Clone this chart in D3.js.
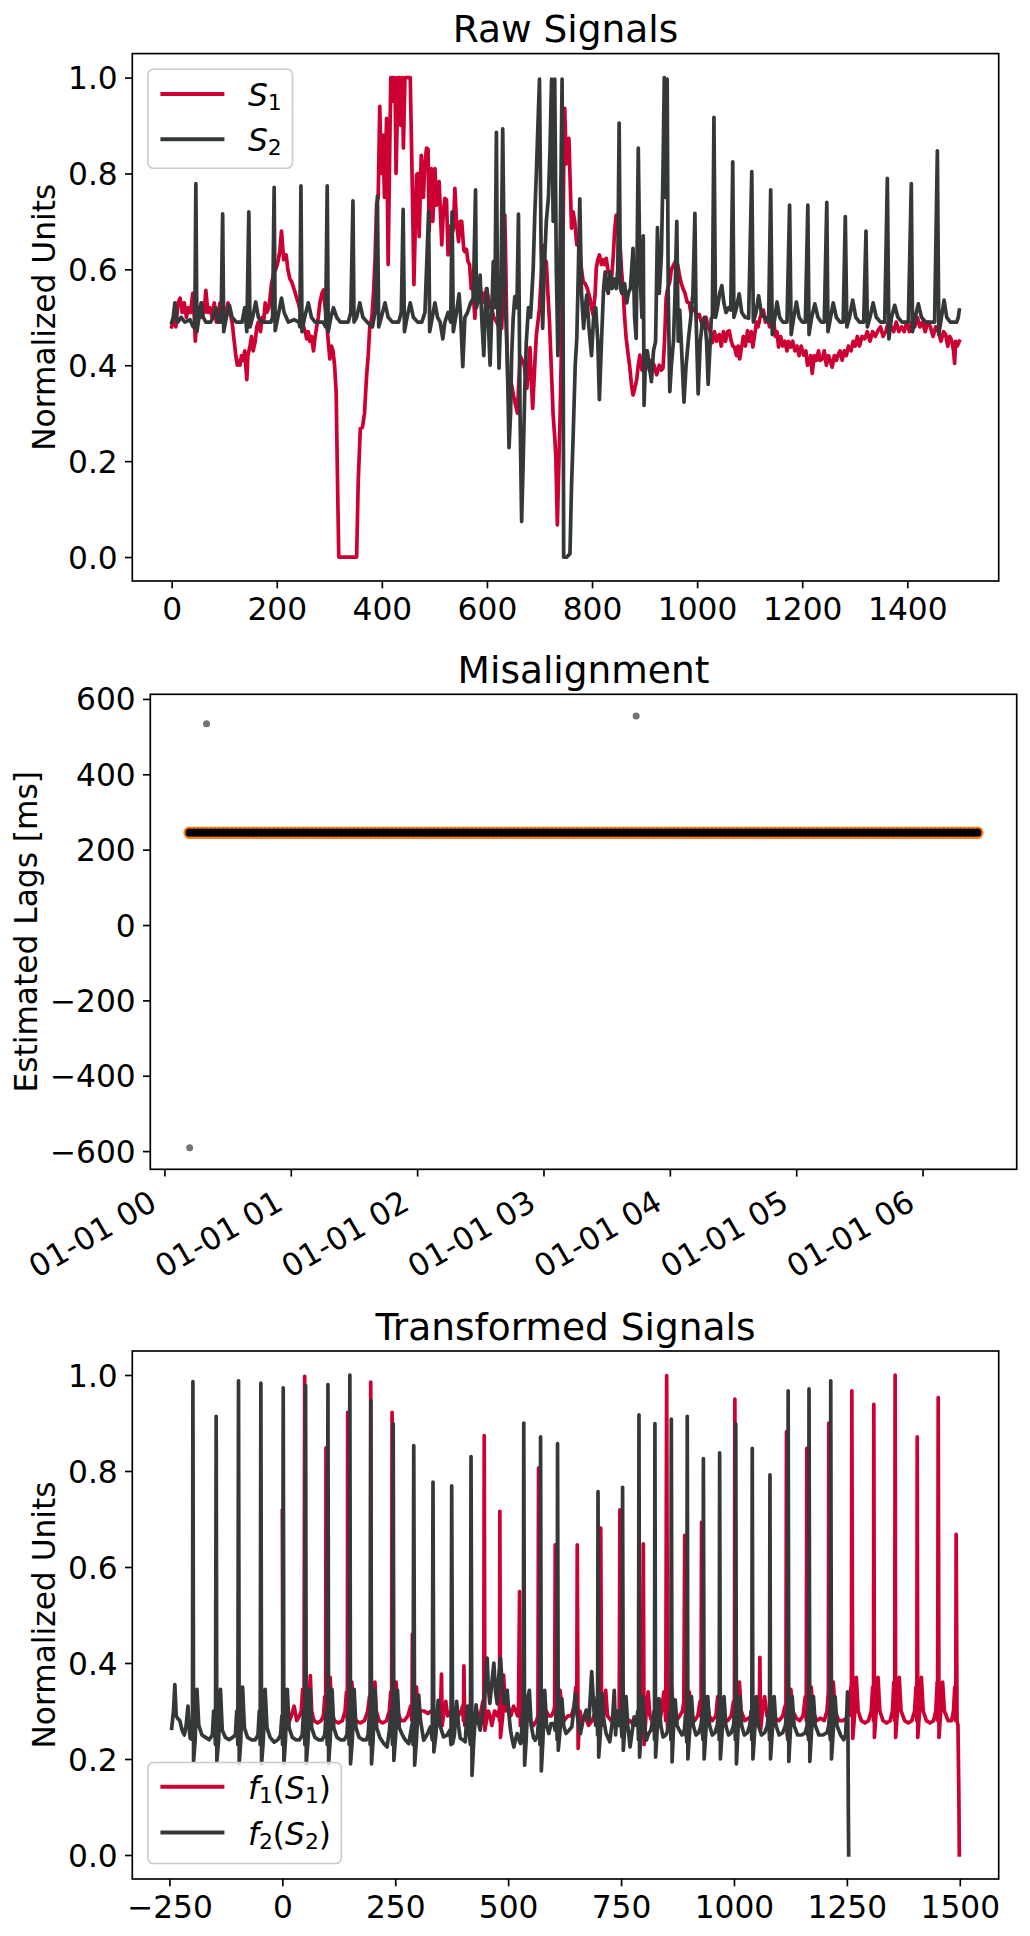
<!DOCTYPE html>
<html>
<head>
<meta charset="utf-8">
<script src="https://cdn.jsdelivr.net/npm/d3@7"></script>
<style>
  body { margin: 0; background: #fff; }
  svg { display: block; }
  text { font-family: "DejaVu Sans", "Noto Sans", sans-serif; fill: #000; }
</style>
</head>
<body>
<svg id="chart" width="1030" height="1936"></svg>
<script>
// ---------------- DATA ----------------
// Raw signals: [sample index, normalized value]
const s1Raw = [
[0,.48],[4,.50],[8,.48],[12,.53],[16,.54],[20,.51],[24,.53],[28,.50],[32,.52],[36,.51],[40,.55],[43,.50],[45,.45],[48,.51],[52,.52],[56,.50],[60,.53],[62,.51],[65,.556],[69,.51],[73,.52],[77,.50],[81,.53],[85,.49],[89,.51],[92,.53],[96,.51],[99,.52],[103,.50],[107,.53],[111,.51],[115,.49],[119,.45],[122,.42],[125,.40],[128,.41],[130,.40],[133,.42],[136,.41],[139,.43],[141,.40],[143,.37],[145,.42],[149,.44],[152,.46],[155,.43],[159,.45],[162,.48],[165,.49],[169,.47],[172,.50],[175,.49],[178,.53],[181,.51],[185,.52],[188,.55],[190,.57],[194,.59],[198,.60],[201,.61],[203,.62],[206,.64],[209,.68],[211,.65],[213,.62],[216,.63],[218,.63],[221,.60],[225,.58],[228,.575],[231,.565],[234,.555],[238,.54],[241,.53],[244,.515],[248,.50],[251,.48],[254,.47],[257,.455],[260,.47],[263,.45],[266,.46],[270,.43],[273,.46],[276,.48],[279,.50],[282,.53],[286,.55],[289,.557],[292,.52],[295,.49],[298,.45],[301,.413],[304,.44],[307,.43],[310,.40],[313,.345],[315,.2],[318,0],[352,0],[355,.157],[359,.268],[363,.27],[367,.30],[371,.379],[374,.42],[377,.48],[381,.50],[384,.549],[387,.62],[390,.736],[393,.75],[396,.94],[399,.80],[402,.88],[405,.75],[409,.915],[412,.61],[415,.85],[417,1],[421,1],[423,.95],[425,1],[427,.80],[431,1],[434,1],[436,.90],[439,1],[441,.853],[444,1],[452,1],[454,1],[458,.77],[461,.568],[466,.797],[469,.80],[471,.668],[475,.838],[479,.75],[482,.82],[485,.853],[488,.85],[490,.679],[494,.81],[497,.70],[501,.81],[504,.734],[507,.76],[509,.783],[514,.651],[517,.72],[520,.748],[523,.745],[526,.63],[530,.69],[533,.672],[536,.685],[539,.769],[542,.70],[546,.658],[549,.70],[552,.70],[556,.64],[558,.637],[561,.642],[564,.616],[567,.61],[570,.56],[573,.566],[577,.498],[580,.55],[583,.568],[586,.574],[589,.547],[593,.55],[596,.53],[599,.56],[603,.54],[606,.52],[609,.519],[613,.50],[618,.491],[623,.48],[628,.477],[631,.55],[634,.713],[636,.60],[638,.45],[640,.352],[645,.37],[650,.34],[653,.324],[658,.30],[663,.42],[667,.41],[671,.40],[676,.352],[682,.437],[684,.38],[687,.31],[691,.40],[694,.463],[697,.49],[700,.519],[704,.60],[707,.65],[710,.62],[713,.616],[716,.55],[719,.491],[723,.38],[726,.296],[729,.25],[731,.213],[734,.067],[737,.20],[739,.283],[742,.45],[744,.56],[746,.80],[748,.936],[751,.82],[754,.85],[756,.873],[759,.76],[761,.686],[764,.72],[767,.70],[771,.651],[774,.66],[777,.63],[780,.60],[783,.575],[787,.57],[791,.56],[796,.54],[799,.52],[802,.505],[806,.55],[808,.602],[811,.62],[814,.63],[818,.61],[821,.62],[824,.61],[827,.623],[830,.60],[833,.588],[837,.58],[840,.62],[843,.68],[846,.713],[849,.68],[853,.658],[856,.60],[859,.56],[862,.50],[865,.456],[869,.42],[872,.394],[875,.36],[878,.338],[881,.35],[885,.37],[888,.40],[891,.421],[895,.39],[899,.41],[903,.43],[906,.40],[910,.387],[913,.41],[918,.40],[923,.38],[928,.40],[932,.39],[935,.394],[938,.45],[941,.54],[944,.56],[948,.574],[951,.60],[959,.617],[963,.61],[966,.59],[969,.574],[973,.56],[977,.55],[981,.532],[985,.53],[988,.51],[991,.515],[995,.52],[999,.50],[1004,.506],[1008,.49],[1013,.48],[1017,.50],[1021,.48],[1025,.47],[1029,.447],[1033,.47],[1037,.45],[1042,.464],[1046,.44],[1050,.47],[1054,.45],[1058,.47],[1061,.472],[1065,.45],[1068,.44],[1071,.438],[1075,.42],[1078,.44],[1081,.413],[1085,.44],[1088,.46],[1092,.44],[1096,.472],[1100,.45],[1103,.47],[1106,.438],[1109,.46],[1113,.49],[1116,.48],[1120,.50],[1123,.51],[1126,.515],[1130,.49],[1134,.50],[1138,.48],[1142,.50],[1146,.489],[1149,.46],[1152,.47],[1155,.438],[1159,.46],[1163,.44],[1167,.45],[1171,.43],[1174,.45],[1178,.438],[1182,.45],[1186,.43],[1190,.44],[1194,.42],[1198,.44],[1203,.421],[1207,.43],[1210,.40],[1213,.404],[1216,.42],[1219,.383],[1223,.42],[1227,.41],[1231,.43],[1234,.41],[1238,.413],[1242,.43],[1246,.40],[1250,.42],[1253,.41],[1257,.396],[1261,.42],[1265,.41],[1268,.421],[1272,.43],[1276,.41],[1280,.43],[1284,.42],[1288,.44],[1293,.43],[1297,.45],[1301,.44],[1305,.46],[1309,.44],[1314,.46],[1319,.455],[1324,.47],[1329,.45],[1334,.47],[1339,.46],[1344,.472],[1349,.48],[1354,.46],[1359,.47],[1364,.49],[1369,.48],[1374,.47],[1379,.49],[1384,.47],[1389,.48],[1394,.47],[1399,.49],[1404,.47],[1409,.49],[1414,.48],[1419,.50],[1424,.48],[1429,.49],[1434,.47],[1439,.49],[1444,.48],[1449,.46],[1454,.48],[1459,.47],[1464,.45],[1469,.47],[1473,.464],[1477,.44],[1481,.46],[1485,.45],[1488,.43],[1490,.404],[1492,.45],[1495,.44],[1499,.45]
];
const s2Raw = [
[0,.489],[3,.50],[6,.53],[9,.50],[12,.49],[18,.50],[25,.49],[35,.495],[41,.48],[44,.48],[46,.779],[48,.47],[52,.50],[56,.53],[60,.50],[65,.49],[74,.49],[79,.50],[84,.52],[89,.49],[94,.49],[97,.716],[99,.47],[104,.50],[110,.525],[115,.50],[123,.49],[134,.49],[139,.52],[143,.47],[146.8,.72],[149,.48],[154,.50],[160,.532],[165,.50],[171,.49],[184,.49],[189,.49],[192,.50],[195,.771],[197,.472],[202,.50],[209,.54],[214,.51],[222,.49],[233,.495],[242,.49],[244,.48],[246,.774],[248,.47],[253,.50],[260,.53],[266,.50],[273,.49],[288,.49],[293,.48],[296,.774],[298,.47],[303,.50],[308,.52],[314,.50],[321,.49],[336,.49],[341,.51],[345,.743],[347,.49],[352,.50],[358,.53],[364,.50],[372,.49],[382,.48],[387,.51],[391.5,.753],[394,.48],[399,.50],[406,.53],[412,.50],[420,.49],[432,.49],[437,.51],[440.5,.725],[443,.47],[448,.50],[454,.53],[460,.50],[468,.49],[476,.49],[482,.51],[489,.721],[491,.47],[496,.50],[501,.53],[506,.50],[511,.49],[516,.455],[520,.49],[526,.51],[531,.49],[533.7,.72],[536,.47],[542,.51],[547,.549],[550,.50],[554,.397],[558,.50],[563,.51],[569,.53],[574,.54],[578.3,.766],[580,.52],[584,.54],[587,.588],[590,.50],[594,.42],[597,.52],[600,.56],[603,.48],[606,.40],[609,.50],[612,.616],[615,.52],[618,.886],[620,.55],[623,.394],[626,.50],[630,.893],[633,.60],[636,.50],[639,.40],[642,.228],[645,.30],[647,.42],[650,.50],[653,.543],[657,.52],[660,.715],[663,.30],[666,.074],[669,.20],[672,.35],[675,.45],[679,.52],[683,.50],[688,.60],[691,.713],[694,.80],[697,.90],[700,.997],[703,.65],[706,.477],[709,.60],[713,.70],[717,.75],[720,.85],[723,.997],[726,.70],[729,.997],[732,.60],[735,.42],[738,.55],[741,.80],[743,.997],[745,.50],[746,0],[752,0],[758,.007],[761,.15],[764,.25],[768,.40],[771,.456],[774,.60],[776.7,.747],[780,.55],[784,.477],[787,.52],[790,.547],[794,.48],[799,.42],[803,.50],[807,.52],[811,.45],[814,.328],[818,.45],[822,.56],[825,.595],[828,.56],[831,.55],[834,.595],[838,.56],[842,.58],[846,.56],[849,.60],[851.6,.905],[854,.56],[857,.55],[862,.57],[866,.53],[869,.55],[873,.56],[878,.644],[881,.50],[884,.456],[888,.853],[891,.60],[895,.50],[897.5,.67],[899,.316],[902,.42],[905,.43],[909,.40],[913,.366],[917,.43],[921,.45],[924.5,.687],[928,.55],[932,.63],[935,.80],[937.5,1],[940,.75],[943,.997],[945,.55],[948,.345],[951,.40],[955,.45],[958,.55],[961.3,.70],[964,.45],[967,.515],[971,.42],[975,.323],[979,.40],[984,.46],[988,.50],[992,.55],[995.8,.717],[998,.50],[1002,.34],[1006,.45],[1010,.49],[1014,.50],[1018,.45],[1021,.36],[1025,.45],[1027,.498],[1029,.50],[1032,.917],[1035,.50],[1038,.515],[1043,.55],[1047,.566],[1051,.53],[1055,.51],[1060,.52],[1064,.515],[1067.8,.824],[1070,.50],[1075,.52],[1080,.549],[1085,.51],[1091,.50],[1098,.498],[1104,.804],[1107,.49],[1112,.51],[1117,.545],[1122,.51],[1128,.50],[1136,.49],[1140,.766],[1143,.464],[1148,.50],[1152,.532],[1157,.50],[1163,.49],[1171,.49],[1176,.734],[1179,.464],[1184,.50],[1189,.532],[1194,.50],[1200,.49],[1206,.49],[1210.7,.734],[1213,.464],[1218,.50],[1224,.528],[1230,.50],[1236,.49],[1242,.49],[1246.8,.74],[1249,.47],[1254,.50],[1259,.53],[1265,.50],[1272,.49],[1278,.49],[1282,.71],[1285,.48],[1290,.50],[1296,.536],[1302,.50],[1309,.49],[1317,.49],[1321.4,.68],[1324,.48],[1329,.50],[1335,.53],[1341,.50],[1349,.49],[1357,.49],[1362,.79],[1365,.455],[1370,.50],[1376,.525],[1382,.50],[1390,.49],[1402,.49],[1407.6,.779],[1410,.47],[1415,.50],[1421,.528],[1427,.50],[1435,.49],[1445,.49],[1452,.49],[1457.2,.847],[1460,.465],[1465,.50],[1470,.536],[1475,.50],[1482,.49],[1490,.49],[1494,.49],[1497,.50],[1499,.515]
];

// Misalignment: estimated lag per window (ms); windows start at 00:12, one every 2 minutes
const lagStartMinutes = 12;
const lagStepMinutes = 2;
const lagRaw = [
-591,245,245,245,534,245,245,245,245,245,245,245,245,245,245,245,245,245,245,245,
245,245,245,245,245,245,245,245,245,245,245,245,245,245,245,245,245,245,245,245,
245,245,245,245,245,245,245,245,245,245,245,245,245,245,245,245,245,245,245,245,
245,245,245,245,245,245,245,245,245,245,245,245,245,245,245,245,245,245,245,245,
245,245,245,245,245,245,245,245,245,245,245,245,245,245,245,245,245,245,245,245,
245,245,245,245,245,245,555,245,245,245,245,245,245,245,245,245,245,245,245,245,
245,245,245,245,245,245,245,245,245,245,245,245,245,245,245,245,245,245,245,245,
245,245,245,245,245,245,245,245,245,245,245,245,245,245,245,245,245,245,245,245,
245,245,245,245,245,245,245,245,245,245,245,245,245,245,245,245,245,245,245,245,
245,245,245,245,245,245,245,245
];
const lagFiltered = [
245,245,245,245,245,245,245,245,245,245,245,245,245,245,245,245,245,245,245,245,
245,245,245,245,245,245,245,245,245,245,245,245,245,245,245,245,245,245,245,245,
245,245,245,245,245,245,245,245,245,245,245,245,245,245,245,245,245,245,245,245,
245,245,245,245,245,245,245,245,245,245,245,245,245,245,245,245,245,245,245,245,
245,245,245,245,245,245,245,245,245,245,245,245,245,245,245,245,245,245,245,245,
245,245,245,245,245,245,245,245,245,245,245,245,245,245,245,245,245,245,245,245,
245,245,245,245,245,245,245,245,245,245,245,245,245,245,245,245,245,245,245,245,
245,245,245,245,245,245,245,245,245,245,245,245,245,245,245,245,245,245,245,245,
245,245,245,245,245,245,245,245,245,245,245,245,245,245,245,245,245,245,245,245,
245,245,245,245,245,245,245,245
];

// Transformed signals: [sample index, normalized value]
const f1Transformed = [
[0,.717],[1,.40],[3,.31],[8,.27],[14,.275],[20,.29],[26,.31],[32,.28],[38,.29],[42,.30],[45,.345],[48,.28],[49.5,.997],[51,.26],[55,.29],[58,.30],[62,.374],[65,.30],[70,.28],[78,.275],[86,.28],[91,.29],[94,.33],[96,.28],[96.7,.848],[98,.25],[102,.29],[106,.37],[109,.30],[115,.28],[124,.275],[133,.28],[139,.30],[142,.34],[144,.28],[144.7,.922],[146,.245],[150,.29],[154,.36],[157,.30],[163,.28],[172,.275],[182,.28],[189,.30],[193,.33],[195,.28],[195.7,.985],[197,.25],[201,.29],[205,.36],[208,.30],[214,.28],[222,.275],[231,.28],[237,.30],[240,.34],[242,.28],[243,.922],[245,.25],[249,.29],[252,.36],[255,.30],[262,.28],[270,.28],[278,.29],[284,.31],[287,.28],[288,.46],[289.5,.26],[293,.30],[297,.35],[300,.30],[306,.30],[314,.30],[322,.295],[330,.30],[338,.29],[344,.30],[348,.31],[350,.29],[352.4,.377],[354,.27],[358,.30],[362,.32],[366,.29],[374,.30],[382,.29],[390,.29],[396,.30],[399,.31],[401,.28],[402,.394],[404,.27],[408,.30],[412,.29],[418,.27],[424,.29],[430,.30],[436,.28],[440,.30],[444,.32],[446,.29],[447,.874],[448.5,.26],[452,.28],[456,.30],[460,.29],[464,.27],[470,.30],[476,.29],[479,.30],[481,.28],[481.6,.716],[483,.245],[488,.29],[490,.375],[494,.30],[500,.31],[506,.29],[512,.31],[517,.30],[521,.29],[523,.31],[525.3,.549],[527,.27],[531,.30],[536,.31],[542,.30],[548,.28],[556,.27],[563,.28],[566,.29],[567.3,.806],[569,.245],[574,.30],[578,.31],[584,.30],[590,.29],[596,.29],[601,.30],[603,.31],[604.3,.646],[606,.27],[610,.32],[615,.343],[619,.30],[624,.28],[632,.29],[640,.29],[646,.31],[650,.35],[652,.30],[653,.646],[655,.222],[659,.30],[663,.28],[670,.29],[678,.27],[686,.28],[694,.30],[700,.26],[703,.33],[705,.681],[707,.27],[711,.29],[716,.343],[720,.29],[728,.28],[736,.27],[742,.29],[746,.30],[747.5,.719],[749,.27],[753,.29],[757,.33],[761,.28],[770,.28],[778,.27],[786,.28],[792,.29],[797,.31],[799.3,.648],[801,.23],[806,.30],[810,.34],[814,.29],[822,.27],[830,.28],[838,.29],[845,.34],[849,.28],[851,.999],[853,.26],[857,.29],[862,.35],[866,.30],[873,.28],[880,.29],[886,.30],[889,.32],[891,.666],[893,.25],[897,.30],[901,.34],[906,.29],[913,.28],[920,.29],[925,.32],[927,.29],[928.3,.693],[930,.25],[935,.30],[940,.33],[945,.29],[952,.28],[960,.29],[964,.33],[966,.28],[971,.30],[978,.28],[986,.28],[994,.29],[999,.32],[1001,.28],[1002,.95],[1004,.25],[1008,.29],[1012,.36],[1016,.30],[1024,.28],[1032,.285],[1040,.29],[1048,.28],[1053,.30],[1056,.28],[1057.4,.412],[1059,.26],[1063,.30],[1068,.33],[1073,.29],[1080,.28],[1090,.285],[1100,.28],[1108,.29],[1113,.31],[1115,.28],[1116.3,.882],[1118,.25],[1122,.29],[1126,.345],[1130,.30],[1138,.285],[1146,.28],[1153,.29],[1158,.33],[1160,.28],[1161.3,.847],[1163,.25],[1167,.29],[1171,.35],[1175,.30],[1183,.28],[1192,.285],[1200,.28],[1206,.30],[1209,.34],[1210,.90],[1212,.25],[1216,.29],[1220,.36],[1224,.30],[1232,.28],[1241,.28],[1250,.285],[1256,.30],[1259,.35],[1260,.29],[1261,.967],[1263,.243],[1267,.29],[1271,.37],[1275,.30],[1282,.28],[1290,.275],[1298,.28],[1304,.30],[1307,.35],[1309,.28],[1309.7,.939],[1311,.245],[1315,.30],[1319,.37],[1323,.30],[1330,.28],[1338,.275],[1346,.28],[1351,.30],[1354,.36],[1356,.28],[1356.9,1],[1358,.245],[1362,.30],[1366,.37],[1370,.30],[1378,.28],[1386,.275],[1394,.28],[1400,.30],[1403,.35],[1405,.28],[1405.8,.871],[1407,.245],[1411,.30],[1415,.37],[1419,.30],[1426,.28],[1434,.275],[1442,.28],[1447,.30],[1450,.36],[1451,.28],[1452.3,.953],[1454,.245],[1458,.30],[1462,.36],[1466,.30],[1474,.28],[1482,.28],[1486,.30],[1489,.35],[1491,.28],[1492,.668],[1494,.28],[1496,.27],[1498,.125],[1499,0]
];
const f2Transformed = [
[-245,.264],[-241,.30],[-238,.355],[-235,.29],[-232,.285],[-227,.28],[-222,.26],[-217,.25],[-213,.27],[-209,.31],[-206,.26],[-204,.243],[-199,.24],[-198,.986],[-196.5,.195],[-193,.24],[-189,.345],[-185,.27],[-178,.25],[-170,.245],[-162,.24],[-155,.25],[-152,.30],[-148,.23],[-146.5,.914],[-145,.195],[-141,.24],[-137,.345],[-133,.26],[-126,.245],[-118,.24],[-110,.245],[-104,.25],[-101,.30],[-98.5,.23],[-97,.988],[-95.5,.19],[-92,.24],[-88,.35],[-84,.265],[-77,.245],[-68,.24],[-60,.24],[-54,.25],[-51,.30],[-49,.23],[-47.5,.983],[-46,.19],[-42,.24],[-38,.345],[-34,.265],[-27,.245],[-18,.235],[-10,.24],[-4,.25],[-1,.29],[.5,.23],[2,.973],[3.5,.19],[7,.24],[11,.345],[15,.265],[22,.245],[30,.24],[38,.24],[44,.25],[47,.30],[50,.23],[51.5,.978],[53,.19],[57,.24],[61,.345],[65,.265],[72,.245],[80,.24],[88,.24],[94,.25],[97,.30],[99.5,.23],[101,.98],[102.5,.19],[106,.24],[110,.345],[114,.265],[121,.245],[129,.24],[137,.24],[143,.25],[146,.30],[148,.23],[149.5,1],[151,.19],[155,.24],[159,.345],[163,.265],[170,.245],[178,.24],[186,.24],[190,.25],[193,.30],[194.5,.23],[196,.947],[197.5,.19],[201,.24],[205,.345],[209,.265],[216,.245],[225,.232],[232,.225],[237,.26],[241,.30],[244,.23],[245.5,.898],[247,.197],[251,.25],[255,.343],[259,.265],[265,.252],[272,.24],[280,.232],[285,.26],[287.4,.274],[289.5,.23],[291,.853],[293,.187],[297,.24],[302,.333],[306,.28],[313,.239],[320,.25],[328,.267],[332,.24],[333.6,.777],[335.5,.215],[340,.25],[345,.322],[349,.27],[357,.246],[365,.25],[371,.26],[373.5,.23],[375,.769],[377,.232],[381,.25],[386,.32],[390,.27],[394,.243],[400,.24],[405,.236],[410,.31],[414,.25],[416.5,.23],[417.8,.83],[420,.166],[424,.24],[429,.313],[433,.28],[438,.26],[443,.29],[447.7,.33],[450,.36],[453.6,.41],[456,.35],[459.5,.316],[464,.36],[468.4,.40],[472,.34],[475.8,.315],[479,.37],[483.2,.41],[487,.35],[490.6,.316],[494,.33],[498,.343],[502,.29],[505.3,.26],[509,.24],[512.7,.225],[516,.24],[520,.253],[524,.24],[527.5,.232],[530,.26],[532,.30],[533.5,.235],[534.6,.90],[536.5,.187],[540,.24],[544,.33],[547,.343],[551,.27],[556,.245],[560,.239],[565,.25],[568,.29],[570.5,.23],[571.8,.871],[573.5,.175],[577,.24],[581,.343],[585,.27],[590,.253],[595,.274],[601,.274],[604,.26],[607,.30],[608.5,.24],[609.4,.857],[611,.218],[615,.26],[619,.326],[623,.27],[628,.253],[635,.26],[641,.267],[645,.30],[649,.336],[653,.29],[660,.253],[666,.281],[673,.302],[679,.28],[685,.382],[690,.30],[694,.27],[697,.33],[698,.25],[699,.757],[700.5,.204],[704,.25],[708,.336],[712,.28],[717,.253],[725,.236],[731,.28],[735,.343],[738,.25],[741,.30],[744,.27],[748,.30],[752,.246],[753.4,.766],[755,.218],[758,.26],[761,.33],[765,.27],[770,.225],[775,.26],[779,.288],[784,.27],[787,.30],[788.5,.24],[789.7,.917],[791,.204],[795,.26],[798,.33],[802,.27],[806,.239],[811,.253],[816,.26],[820,.28],[823,.30],[824,.24],[825,.899],[826.5,.204],[830,.26],[834,.326],[838,.27],[843,.246],[849,.25],[854,.26],[857,.29],[859,.30],[860.3,.24],[861.3,.908],[863,.194],[866,.26],[870,.323],[874,.27],[879,.26],[885,.25],[890,.26],[893,.29],[895.5,.235],[896.6,.914],[898,.20],[902,.26],[906,.33],[910,.27],[916,.25],[922,.255],[927,.27],[930,.30],[931.3,.24],[932.3,.826],[934,.20],[938,.26],[942,.33],[946,.27],[952,.25],[958,.255],[963,.27],[966,.30],[967.3,.24],[968.3,.838],[970,.20],[974,.26],[978,.33],[982,.27],[988,.25],[994,.255],[999,.27],[1002,.30],[1003,.24],[1004,.898],[1005.5,.19],[1009,.26],[1013,.33],[1017,.27],[1023,.25],[1030,.255],[1035,.27],[1038,.30],[1039.5,.24],[1040.5,.847],[1042,.20],[1046,.26],[1050,.33],[1054,.27],[1061,.25],[1068,.255],[1074,.27],[1077,.30],[1078.7,.24],[1079.7,.792],[1081,.20],[1085,.26],[1089,.33],[1093,.27],[1100,.25],[1108,.255],[1114,.27],[1117,.30],[1119,.24],[1120,.967],[1121.5,.195],[1125,.26],[1129,.33],[1133,.27],[1141,.25],[1150,.25],[1158,.255],[1162,.27],[1164,.30],[1165.2,.24],[1166.2,.971],[1168,.195],[1172,.26],[1176,.33],[1180,.27],[1188,.25],[1197,.25],[1206,.255],[1210,.27],[1212,.30],[1213.3,.24],[1214.3,.988],[1216,.20],[1220,.26],[1224,.33],[1228,.27],[1236,.25],[1243,.24],[1247,.25],[1250,.30],[1251.5,.34],[1252.5,.25],[1253.2,.10],[1254,0]
];

// Tick labels
const rawXTicks = [0, 200, 400, 600, 800, 1000, 1200, 1400];
const unitYTicks = [0, 0.2, 0.4, 0.6, 0.8, 1.0];
const lagYTicks = [-600, -400, -200, 0, 200, 400, 600];
const transformedXTicks = [-250, 0, 250, 500, 750, 1000, 1250, 1500];

// ---------------- STYLE ----------------
const RED = "#cc0033";
const DARK = "#353838";
const ORANGE = "#ff7f0e";
const FS = 31.25;     // tick / label / legend font size
const TITLE_FS = 37.5;
const SUB_FS = 21.9;
const SPINE_W = 1.67;
const TICK_LEN = 7.3;
const LINE_W = 3.7;

const svg = d3.select("#chart");
svg.append("rect").attr("width", 1030).attr("height", 1936).attr("fill", "#fff");

function pad5(ext) {
  const span = ext[1] - ext[0];
  return [ext[0] - span * 0.05, ext[1] + span * 0.05];
}

function drawAxes(box, x, y, opts) {
  const g = svg.append("g");
  const xa = g.append("g")
    .attr("transform", `translate(0,${box.bottom})`)
    .call(d3.axisBottom(x).tickValues(opts.xTicks).tickFormat(opts.xFormat).tickSize(TICK_LEN).tickSizeOuter(0));
  xa.attr("font-size", null).attr("font-family", null);
  xa.select(".domain").remove();
  xa.selectAll(".tick line").attr("stroke", "#000").attr("stroke-width", SPINE_W);
  const xt = xa.selectAll(".tick text").attr("fill", "#000").attr("font-size", FS).attr("dy", null);
  if (opts.rotateX) {
    xt.attr("text-anchor", "end").attr("x", -6.3).attr("y", 39)
      .attr("transform", "rotate(-30,-6.3,39)");
  } else {
    xt.attr("y", 38.5);
  }
  const ya = g.append("g")
    .attr("transform", `translate(${box.left},0)`)
    .call(d3.axisLeft(y).tickValues(opts.yTicks).tickFormat(opts.yFormat).tickSize(TICK_LEN).tickSizeOuter(0));
  ya.attr("font-size", null).attr("font-family", null);
  ya.select(".domain").remove();
  ya.selectAll(".tick line").attr("stroke", "#000").attr("stroke-width", SPINE_W);
  ya.selectAll(".tick text").attr("fill", "#000").attr("font-size", FS)
    .attr("x", -14.6).attr("dy", null).attr("y", 11);
  g.append("text")
    .attr("x", (box.left + box.right) / 2).attr("y", box.top - 11.5)
    .attr("text-anchor", "middle").attr("font-size", TITLE_FS)
    .text(opts.title);
  const cy = (box.top + box.bottom) / 2;
  g.append("text")
    .attr("transform", `translate(${opts.ylabelX},${cy}) rotate(-90)`)
    .attr("text-anchor", "middle").attr("font-size", FS)
    .text(opts.ylabel);
  return g;
}

function drawFrame(box) {
  svg.append("rect")
    .attr("x", box.left).attr("y", box.top)
    .attr("width", box.right - box.left).attr("height", box.bottom - box.top)
    .attr("fill", "none").attr("stroke", "#000").attr("stroke-width", SPINE_W);
}

function drawLegend(lb, items) {
  const g = svg.append("g");
  g.append("rect").attr("x", lb.x).attr("y", lb.y).attr("width", lb.w).attr("height", lb.h)
    .attr("rx", 5.5).attr("fill", "#fff").attr("fill-opacity", 0.8)
    .attr("stroke", "#cccccc").attr("stroke-width", 1.6);
  items.forEach((it, i) => {
    const yy = lb.rowY[i];
    g.append("line").attr("x1", lb.x + 14.5).attr("x2", lb.x + 14.5 + 60)
      .attr("y1", yy).attr("y2", yy)
      .attr("stroke", it.color).attr("stroke-width", 4).attr("stroke-linecap", "square");
    const t = g.append("text").attr("x", lb.x + 100).attr("y", yy + 12).attr("font-size", FS);
    let shifted = false;
    it.parts.forEach(p => {
      const ts = t.append("tspan").text(p.t);
      if (p.italic) ts.attr("font-style", "italic");
      if (p.sub) {
        ts.attr("font-size", SUB_FS).attr("dy", shifted ? 0 : 4);
        shifted = true;
      } else if (shifted) {
        ts.attr("dy", -4);
        shifted = false;
      }
    });
  });
}

const lineGen = (x, y) => d3.line().x(d => x(d[0])).y(d => y(d[1]));

// ---------------- PANEL 1: Raw Signals ----------------
{
  const box = { left: 132.3, right: 998.7, top: 53.6, bottom: 581 };
  const x = d3.scaleLinear().domain(pad5(d3.extent(s1Raw.concat(s2Raw), d => d[0]))).range([box.left, box.right]);
  const y = d3.scaleLinear().domain(pad5(d3.extent(s1Raw.concat(s2Raw), d => d[1]))).range([box.bottom, box.top]);
  drawAxes(box, x, y, {
    xTicks: rawXTicks, xFormat: d3.format("d"),
    yTicks: unitYTicks, yFormat: d3.format(".1f"),
    title: "Raw Signals", ylabel: "Normalized Units", ylabelX: 55
  });
  const lg = lineGen(x, y);
  [[s1Raw, RED], [s2Raw, DARK]].forEach(([data, c]) => {
    svg.append("path").datum(data).attr("d", lg).attr("fill", "none")
      .attr("stroke", c).attr("stroke-width", LINE_W)
      .attr("stroke-linejoin", "round").attr("stroke-linecap", "square");
  });
  drawFrame(box);
  drawLegend({ x: 147.9, y: 69.2, w: 144.6, h: 99, rowY: [93.9, 139.2] }, [
    { color: RED, parts: [{ t: "S", italic: true }, { t: "1", sub: true }] },
    { color: DARK, parts: [{ t: "S", italic: true }, { t: "2", sub: true }] }
  ]);
}

// ---------------- PANEL 2: Misalignment ----------------
{
  const box = { left: 150.3, right: 1016.7, top: 694.3, bottom: 1169.3 };
  const times = lagRaw.map((_, i) => new Date(Date.UTC(2000, 0, 1, 0, lagStartMinutes + i * lagStepMinutes)));
  const tExt = d3.extent(times);
  const tSpan = tExt[1] - tExt[0];
  const x = d3.scaleUtc().domain([new Date(+tExt[0] - tSpan * 0.05), new Date(+tExt[1] + tSpan * 0.05)])
    .range([box.left, box.right]);
  const y = d3.scaleLinear().domain(pad5(d3.extent(lagRaw))).range([box.bottom, box.top]);
  drawAxes(box, x, y, {
    xTicks: x.ticks(d3.utcHour.every(1)), xFormat: d3.utcFormat("%m-%d %H"), rotateX: true,
    yTicks: lagYTicks, yFormat: d3.format("d"),
    title: "Misalignment", ylabel: "Estimated Lags [ms]", ylabelX: 37
  });
  // raw lag estimates (grey)
  svg.append("g").selectAll("circle").data(lagRaw).join("circle")
    .attr("cx", (d, i) => x(times[i])).attr("cy", d => y(d)).attr("r", 3.5)
    .attr("fill", "#000").attr("fill-opacity", 0.55);
  // filtered lags: orange halo layer, then black layer
  svg.append("g").selectAll("circle").data(lagFiltered).join("circle")
    .attr("cx", (d, i) => x(times[i])).attr("cy", d => y(d)).attr("r", 6.3)
    .attr("fill", ORANGE);
  svg.append("g").selectAll("circle").data(lagFiltered).join("circle")
    .attr("cx", (d, i) => x(times[i])).attr("cy", d => y(d)).attr("r", 4.1)
    .attr("fill", "#000");
  drawFrame(box);
}

// ---------------- PANEL 3: Transformed Signals ----------------
{
  const box = { left: 132.3, right: 998.7, top: 1351, bottom: 1879 };
  const all = f1Transformed.concat(f2Transformed);
  const x = d3.scaleLinear().domain(pad5(d3.extent(all, d => d[0]))).range([box.left, box.right]);
  const y = d3.scaleLinear().domain(pad5(d3.extent(all, d => d[1]))).range([box.bottom, box.top]);
  drawAxes(box, x, y, {
    xTicks: transformedXTicks, xFormat: d3.format("d"),
    yTicks: unitYTicks, yFormat: d3.format(".1f"),
    title: "Transformed Signals", ylabel: "Normalized Units", ylabelX: 55
  });
  const lg = lineGen(x, y);
  [[f1Transformed, RED], [f2Transformed, DARK]].forEach(([data, c]) => {
    svg.append("path").datum(data).attr("d", lg).attr("fill", "none")
      .attr("stroke", c).attr("stroke-width", LINE_W)
      .attr("stroke-linejoin", "round").attr("stroke-linecap", "square");
  });
  drawFrame(box);
  drawLegend({ x: 147.9, y: 1762.5, w: 193.5, h: 101, rowY: [1786.8, 1832.6] }, [
    { color: RED, parts: [{ t: "f", italic: true }, { t: "1", sub: true }, { t: "(" }, { t: "S", italic: true }, { t: "1", sub: true }, { t: ")" }] },
    { color: DARK, parts: [{ t: "f", italic: true }, { t: "2", sub: true }, { t: "(" }, { t: "S", italic: true }, { t: "2", sub: true }, { t: ")" }] }
  ]);
}
</script>
</body>
</html>
